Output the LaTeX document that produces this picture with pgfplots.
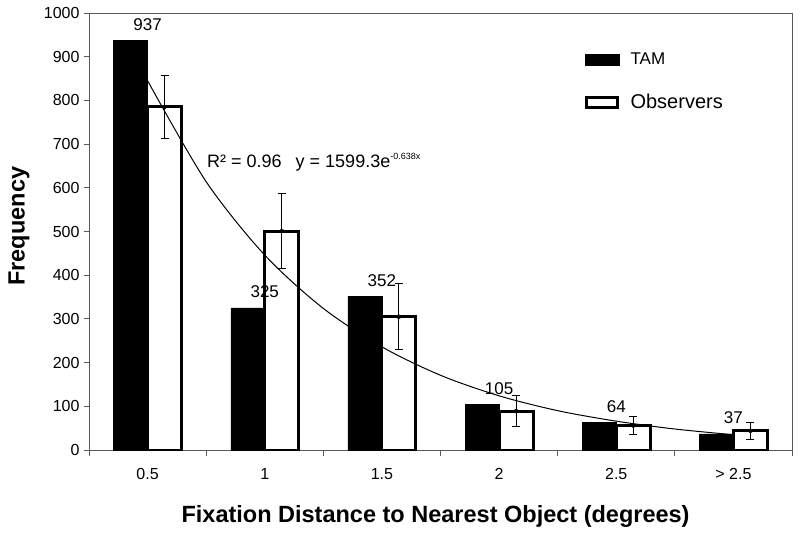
\documentclass[border=0pt]{standalone}
\usepackage{fontspec}
\setmainfont{Liberation Sans}
\usepackage{pgfplots}
\pgfplotsset{compat=1.18}

\newcommand{\fs}[1]{\fontsize{#1}{#1}\selectfont}

\begin{document}
\begin{tikzpicture}
\begin{axis}[
  name=ax,
  width=703bp, height=437bp, scale only axis,
  xmin=0.5, xmax=6.5, ymin=0, ymax=1000,
  ytick={0,100,...,1000},
  xtick={1,...,6},
  xticklabels={0.5,1,1.5,2,2.5,{> 2.5}},
  minor xtick={0.5,1.5,...,6.5},
  major x tick style={draw=none},
  tick align=outside, tick pos=left,
  major tick length=5bp, minor tick length=6bp,
  tick style={gray!70!black, line width=0.8bp},
  axis line style={gray!70!black, line width=0.9bp},
  tick label style={font=\fs{16bp}},
  /pgf/number format/assume math mode=true,
  scaled y ticks=false,
  yticklabel style={/pgf/number format/1000 sep={}, xshift=-1bp},
  xticklabel style={yshift=-10bp},
  xlabel={Fixation Distance to Nearest Object (degrees)},
  ylabel={Frequency},
  xlabel style={font=\bfseries\fs{23.5bp}, at={(axis description cs:0.493,-0.1648)}, anchor=base},
  ylabel style={font=\bfseries\fs{23.5bp}, at={(axis description cs:-0.0996,0.512)}, anchor=center},
  legend style={draw=none, fill=none, inner sep=0pt,
    at={(axis description cs:0.7055,0.913)}, anchor=north west,
    row sep=24bp,
    /tikz/every odd column/.append style={column sep=9bp}},
  legend cell align=left,
]
% TAM
\addplot[ybar, bar width=0.29, bar shift=-0.145, fill=black, draw=black,
  nodes near coords,
  every node near coord/.append style={font=\fs{17bp}, black, anchor=base, yshift=10bp},
  legend image code/.code={\fill[black] (0bp,-5.3bp) rectangle (34bp,5.3bp);}]
  coordinates {(1,937) (2,325) (3,352) (4,105) (5,64) (6,37)};
\addlegendentry{\fs{17bp}TAM}
% Observers
\addplot[ybar, bar width=0.29, bar shift=0.145, fill=white, draw=black, line width=3bp,
  legend image code/.code={\draw[black, line width=3bp, fill=white] (1.5bp,-4.8bp) rectangle (32.5bp,4.8bp);}]
  coordinates {(1,785) (2,501) (3,305) (4,89) (5,56) (6,44)};
\addlegendentry{\fs{20bp}Observers}
% Observers error bars, at the centre of the white bars
\addplot[forget plot, black, only marks, mark=none,
  error bars/.cd, y dir=both, y explicit, error mark=-,
  error bar style={line width=0.9bp, black, solid},
  error mark options={rotate=90, mark size=4bp, line width=0.9bp, black}]
  coordinates {(1.145,785) +- (0,71) (2.145,501) +- (0,85) (3.145,305) +- (0,75)
               (4.145,89) +- (0,36) (5.145,56) +- (0,21) (6.145,44) +- (0,20)};
% exponential trend line
\addplot[forget plot, smooth, black, line width=1bp, no marks]
  coordinates {(1,845) (1.5,614) (2,446) (2.5,324) (3,236) (3.5,171)
               (4,124) (4.5,90) (5,66) (5.5,48) (6,35)};
\node[anchor=base west, font=\fs{18bp}, inner sep=0pt] at (axis cs:1.507,647)
  {R² = 0.96\hspace{14bp}y = 1599.3e\raisebox{0.45em}{\fs{9bp}-0.638x}};
\end{axis}
\pgfresetboundingbox
\path ([xshift=-89bp,yshift=-84bp]ax.south west) rectangle ([xshift=8bp,yshift=13bp]ax.north east);
\end{tikzpicture}
\end{document}
